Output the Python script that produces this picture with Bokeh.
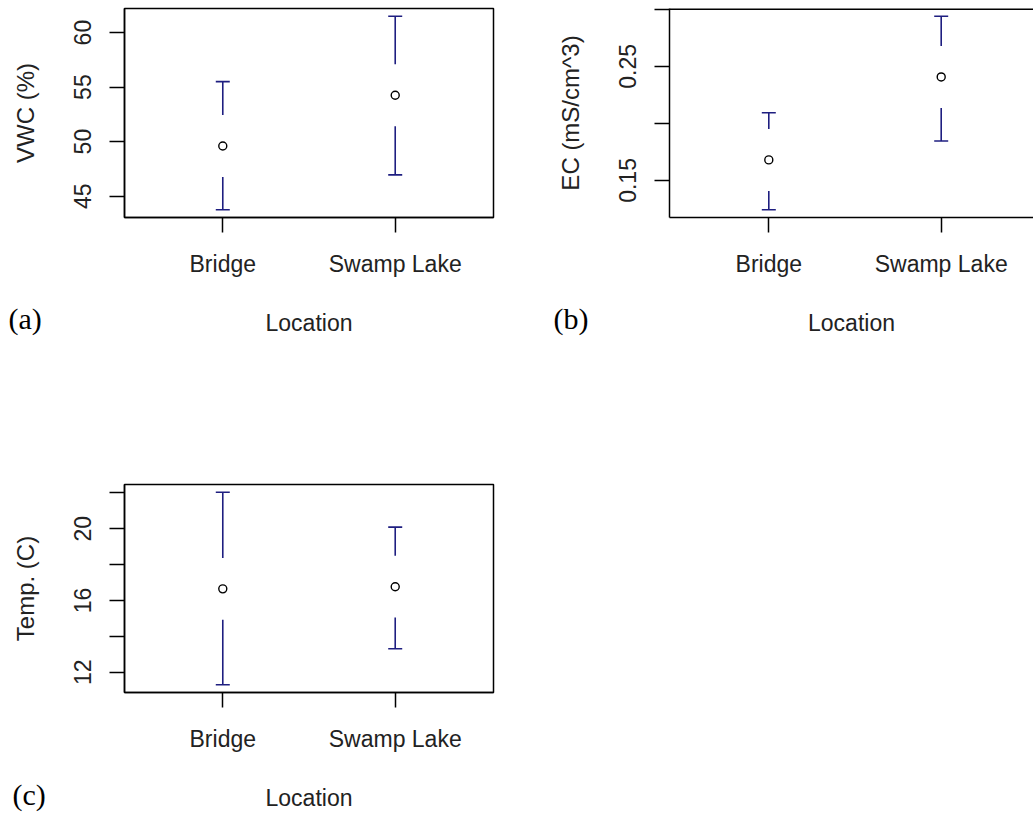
from bokeh.plotting import figure
from bokeh.models import Range1d, FixedTicker, Span, Title
from bokeh.layouts import column, row
from bokeh.embed import file_html
from bokeh.resources import INLINE

# ---------------- data ----------------
locations = ["Bridge", "Swamp Lake"]
loc_x = [1, 2]

vwc_mean = [49.6, 54.25]
vwc_lower = [43.75, 46.95]
vwc_upper = [55.5, 61.5]

ec_mean = [0.168, 0.2407]
ec_lower = [0.1243, 0.1846]
ec_upper = [0.2093, 0.2939]

temp_mean = [16.65, 16.77]
temp_lower = [11.30, 13.31]
temp_upper = [22.04, 20.09]

vwc_ticks = [45, 50, 55, 60]
vwc_tick_labels = ["45", "50", "55", "60"]
ec_ticks = [0.15, 0.20, 0.25, 0.30]
ec_tick_labels = ["0.15", "", "0.25", ""]
temp_ticks = [12, 14, 16, 18, 20, 22]
temp_tick_labels = ["12", "", "16", "", "20", ""]

# ---------------- style ----------------
FONT = "Liberation Sans"
SERIF = "Liberation Serif"
TXT = "#222222"
BAR = "#1e1e80"
GAP_PX = 31
UNIT_PX = 172.4


def panel(mean, lower, upper, ylabel, ticks, tick_labels, tag,
          width, height, b_left, b_right, b_top, b_bottom,
          x_start, x_end, full_box=True, tag_offset=-116, tag_standoff=-74):
    lo = min(lower)
    hi = max(upper)
    r = hi - lo
    y0, y1 = lo - 0.04 * r, hi + 0.04 * r
    frame_h = height - b_top - b_bottom
    gap = GAP_PX * (y1 - y0) / frame_h

    p = figure(width=width, height=height,
               x_range=Range1d(x_start, x_end), y_range=Range1d(y0, y1),
               output_backend="svg", toolbar_location=None,
               min_border_left=b_left, min_border_right=b_right,
               min_border_top=b_top, min_border_bottom=b_bottom)
    p.xgrid.visible = False
    p.ygrid.visible = False
    p.background_fill_color = "white"
    p.border_fill_color = "white"
    if full_box:
        p.outline_line_color = "black"
        p.outline_line_width = 1.5
        p.outline_line_alpha = 1.0
    else:
        p.outline_line_color = None
        p.add_layout(Span(location=y1, dimension="width",
                          line_color="black", line_width=3))

    for ax in (p.xaxis[0], p.yaxis[0]):
        ax.axis_line_color = "black"
        ax.axis_line_width = 1.5
        ax.major_tick_line_color = "black"
        ax.major_tick_line_width = 1.5
        ax.major_tick_out = 15
        ax.major_tick_in = 0
        ax.minor_tick_line_color = None
        ax.major_label_text_font = FONT
        ax.major_label_text_font_size = "23px"
        ax.major_label_text_color = TXT
        ax.axis_label_text_font = FONT
        ax.axis_label_text_font_style = "normal"
        ax.axis_label_text_color = TXT

    xa = p.xaxis[0]
    xa.ticker = FixedTicker(ticks=loc_x)
    xa.major_label_overrides = {x: lab for x, lab in zip(loc_x, locations)}
    xa.major_label_standoff = 18
    xa.axis_label = "Location"
    xa.axis_label_text_font_size = "23px"
    xa.axis_label_standoff = 30

    ya = p.yaxis[0]
    ya.ticker = FixedTicker(ticks=ticks)
    ya.major_label_overrides = {t: lab for t, lab in zip(ticks, tick_labels)}
    ya.major_label_orientation = "vertical"
    ya.major_label_standoff = 18
    ya.axis_label = ylabel
    ya.axis_label_text_font_size = "24px"
    ya.axis_label_standoff = 33

    up0 = [m + gap for m in mean]
    dn0 = [m - gap for m in mean]
    p.segment(x0=loc_x, y0=up0, x1=loc_x, y1=upper, line_color=BAR, line_width=1.6)
    p.segment(x0=loc_x, y0=lower, x1=loc_x, y1=dn0, line_color=BAR, line_width=1.6)
    p.scatter(x=loc_x, y=upper, marker="dash", size=14, line_color=BAR, line_width=1.6)
    p.scatter(x=loc_x, y=lower, marker="dash", size=14, line_color=BAR, line_width=1.6)
    p.scatter(x=loc_x, y=mean, marker="circle", size=8, fill_color=None,
              line_color="black", line_width=1.4)

    p.add_layout(Title(text=tag, align="left", vertical_align="top",
                       offset=tag_offset, standoff=tag_standoff,
                       text_font=SERIF, text_font_size="30px",
                       text_font_style="normal", text_color="black"), "below")
    return p


pa = panel(vwc_mean, vwc_lower, vwc_upper, "VWC (%)", vwc_ticks, vwc_tick_labels, "(a)",
           width=520, height=360, b_left=124, b_right=27, b_top=8, b_bottom=143,
           x_start=0.43, x_end=2.57)

b_frame_w = 364
b_start = 0.424
pb = panel(ec_mean, ec_lower, ec_upper, "EC (mS/cm^3)", ec_ticks, ec_tick_labels, "(b)",
           width=513, height=360, b_left=149, b_right=0, b_top=8, b_bottom=143,
           x_start=b_start, x_end=b_start + b_frame_w / UNIT_PX, full_box=False)

pc = panel(temp_mean, temp_lower, temp_upper, "Temp. (C)", temp_ticks, temp_tick_labels, "(c)",
           width=520, height=453, b_left=124, b_right=27, b_top=124, b_bottom=120,
           x_start=0.43, x_end=2.57, tag_offset=-112, tag_standoff=-71)

layout = column(row(pa, pb), pc)
open("out.html", "w").write(file_html(layout, INLINE))
